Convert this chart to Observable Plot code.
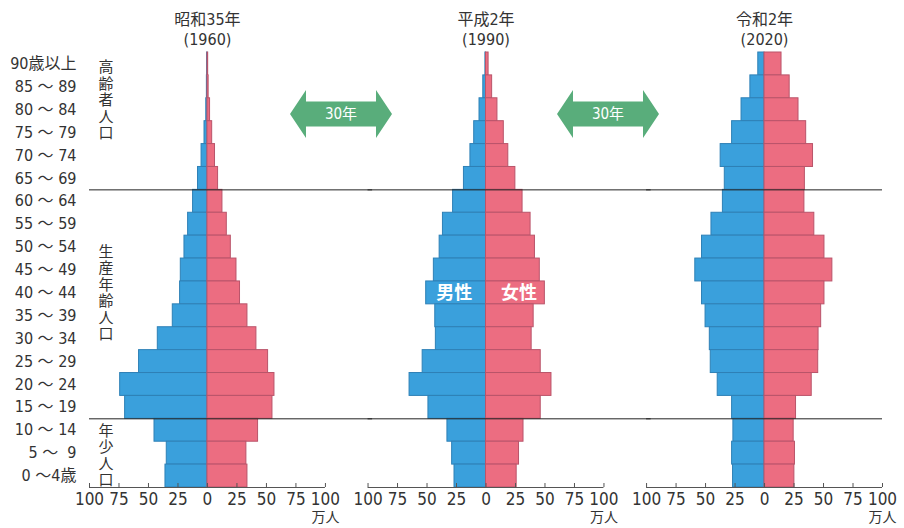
<!DOCTYPE html>
<html><head><meta charset="utf-8">
<script src="https://cdn.jsdelivr.net/npm/d3@7"></script>
<script src="https://cdn.jsdelivr.net/npm/@observablehq/plot@0.6"></script>
<style>
body{margin:0;background:#fff;}
#wrap{position:relative;width:904px;height:528px;}
#wrap svg.overlay{position:absolute;left:0;top:0;pointer-events:none;}
</style></head><body><div id="wrap"></div>
<script>
const ages = ["90歳以上","85 ～ 89","80 ～ 84","75 ～ 79","70 ～ 74","65 ～ 69","60 ～ 64","55 ～ 59","50 ～ 54","45 ～ 49","40 ～ 44","35 ～ 39","30 ～ 34","25 ～ 29","20 ～ 24","15 ～ 19","10 ～ 14","5 ～  9","0 ～4歳"];
const years = ["1960","1990","2020"];
const titles = ["昭和35年\n(1960)","平成2年\n(1990)","令和2年\n(2020)"];
// 万人, top (90+) to bottom (0-4)
const male1960   = [0.3, 0.5, 1, 2.5, 5, 8, 12.2, 16.4, 19.5, 22.6, 23.2, 29.4, 42.1, 58, 74, 69.8, 44.9, 34.5, 35.6];
const female1960 = [0.6, 1, 2.2, 4, 6.4, 9, 12.7, 16.4, 19.8, 24.6, 27.6, 33.9, 41.5, 51.4, 56.8, 55.1, 42.9, 33, 33.9];
const male1990   = [0.5, 2.3, 5.5, 10, 13.2, 18.7, 27.9, 36.5, 39.3, 44.2, 50.7, 43, 42.5, 53.7, 64.8, 48.8, 32.7, 28.7, 26.7];
const female1990 = [2.2, 5.2, 9.7, 15.1, 18.9, 24.9, 31, 37.8, 41.5, 45.6, 49.9, 40.4, 38.7, 46.4, 55.5, 46.4, 31.8, 28, 26];
const male2020   = [5.3, 12, 19.5, 27.5, 37.2, 33.7, 35.3, 45, 53, 58.7, 53, 50, 46.4, 45.6, 39.7, 27.5, 26.4, 27.5, 26.7];
const female2020 = [14.4, 21.3, 28.8, 35.3, 41.1, 34.2, 33.8, 42.2, 50.8, 57.5, 50.8, 48, 45.8, 45.5, 40, 26.7, 24.7, 25.8, 25.3];
const xTicks = [-100, -75, -50, -25, 0, 25, 50, 75, 100];
const unitLabel = "万人";
const sexLabels = ["男性", "女性"];
const groupLabels = ["高齢者人口", "生産年齢人口", "年少人口"];
const arrowLabel = "30年";

const males = [male1960, male1990, male2020];
const females = [female1960, female1990, female2020];
const maleRows = [], femaleRows = [];
years.forEach((yr, i) => ages.forEach((a, j) => {
  maleRows.push({year: yr, age: a, v: -males[i][j]});
  femaleRows.push({year: yr, age: a, v: females[i][j]});
}));
const titleRows = years.map((yr, i) => ({year: yr, t: titles[i]}));
const dividerRows = [];
years.forEach((yr, i) => ["60 ～ 64", "10 ～ 14"].forEach(a =>
  dividerRows.push({year: yr, age: a, x2: i < years.length - 1 ? 140 : 100})));

const FONT = '"Liberation Sans Narrow","DejaVu Sans Condensed","Noto Sans CJK JP",sans-serif';
const H = 528, MT = 52, MB = 41;
const bw = (H - MT - MB) / ages.length;
const vert = s => s.split("").join("\n");
const groupStyle = {fx: "year", y: "age", x: -86, text: "t", lineAnchor: "middle", fontSize: 15, lineHeight: 1.1, fill: "#333"};

const chart = Plot.plot({
  width: 904, height: H,
  marginTop: MT, marginBottom: MB, marginLeft: 89, marginRight: 22,
  style: {fontFamily: FONT, background: "#fff", color: "#333"},
  fx: {domain: years, paddingInner: 0.153, paddingOuter: 0, round: false, axis: null},
  x: {domain: [-100, 100], axis: null},
  y: {domain: ages, padding: 0, round: false, axis: null},
  marks: [
    Plot.barX(maleRows, {fx: "year", y: "age", x1: 0, x2: "v", fill: "#3aa0dc", stroke: "#2e80b6", strokeWidth: 1}),
    Plot.barX(femaleRows, {fx: "year", y: "age", x1: 0, x2: "v", fill: "#ec6d81", stroke: "#b9546a", strokeWidth: 1}),
    Plot.ruleY([ages[ages.length - 1]], {y: d => d, x1: -100, x2: 100, dy: bw / 2, stroke: "#555"}),
    Plot.tickX(xTicks, {x: d => d, y: () => ages[ages.length - 1], insetTop: bw - 4, stroke: "#555"}),
    Plot.axisX({ticks: xTicks, tickSize: 0, tickPadding: 5, tickFormat: d => Math.abs(d), fontSize: 17, fill: "#333", label: null}),
    Plot.axisY({tickSize: 0, tickPadding: 13, fontSize: 16, fill: "#333", label: null}),
    Plot.text(titleRows, {fx: "year", text: "t", frameAnchor: "top", lineAnchor: "bottom", dy: -8, fontSize: 16, lineHeight: 1.2, fill: "#333"}),
    Plot.text([unitLabel], {x: 100, frameAnchor: "bottom", dy: 34, fontSize: 14, fill: "#333"}),
    Plot.text([{year: "1960", age: "80 ～ 84", t: vert(groupLabels[0])}], {...groupStyle, dy: -10}),
    Plot.text([{year: "1960", age: "40 ～ 44", t: vert(groupLabels[1])}], {...groupStyle, dy: 0}),
    Plot.text([{year: "1960", age: "5 ～  9", t: vert(groupLabels[2])}], {...groupStyle, dy: 2}),
    Plot.text([{year: "1990", age: "40 ～ 44", t: sexLabels[0], x: -27}, {year: "1990", age: "40 ～ 44", t: sexLabels[1], x: 28}],
      {fx: "year", y: "age", x: "x", text: "t", fill: "white", fontSize: 18, fontWeight: "bold", fontFamily: '"Noto Sans CJK JP",sans-serif'}),
    Plot.ruleY(dividerRows, {fx: "year", y: "age", x1: -100, x2: "x2", dy: -bw / 2, stroke: "#222", strokeWidth: 1})
  ]
});
document.getElementById("wrap").appendChild(chart);

// 30年 arrows (annotation overlay)
const arrows = [[290, 392], [557, 659]];
const cy = 114, head = 16, hh = 24, sh = 12.5;
const ov = d3.select("#wrap").append("svg").attr("class", "overlay").attr("width", 904).attr("height", H);
arrows.forEach(([a, b]) => {
  const pts = [[a, cy], [a + head, cy - hh], [a + head, cy - sh], [b - head, cy - sh], [b - head, cy - hh], [b, cy],
               [b - head, cy + hh], [b - head, cy + sh], [a + head, cy + sh], [a + head, cy + hh]];
  ov.append("polygon").attr("points", pts.map(p => p.join(",")).join(" ")).attr("fill", "#59ad7b");
  ov.append("text").attr("x", (a + b) / 2).attr("y", cy).attr("text-anchor", "middle").attr("dominant-baseline", "central")
    .attr("fill", "white").attr("font-size", 15).attr("font-family", FONT).text(arrowLabel);
});
</script></body></html>
